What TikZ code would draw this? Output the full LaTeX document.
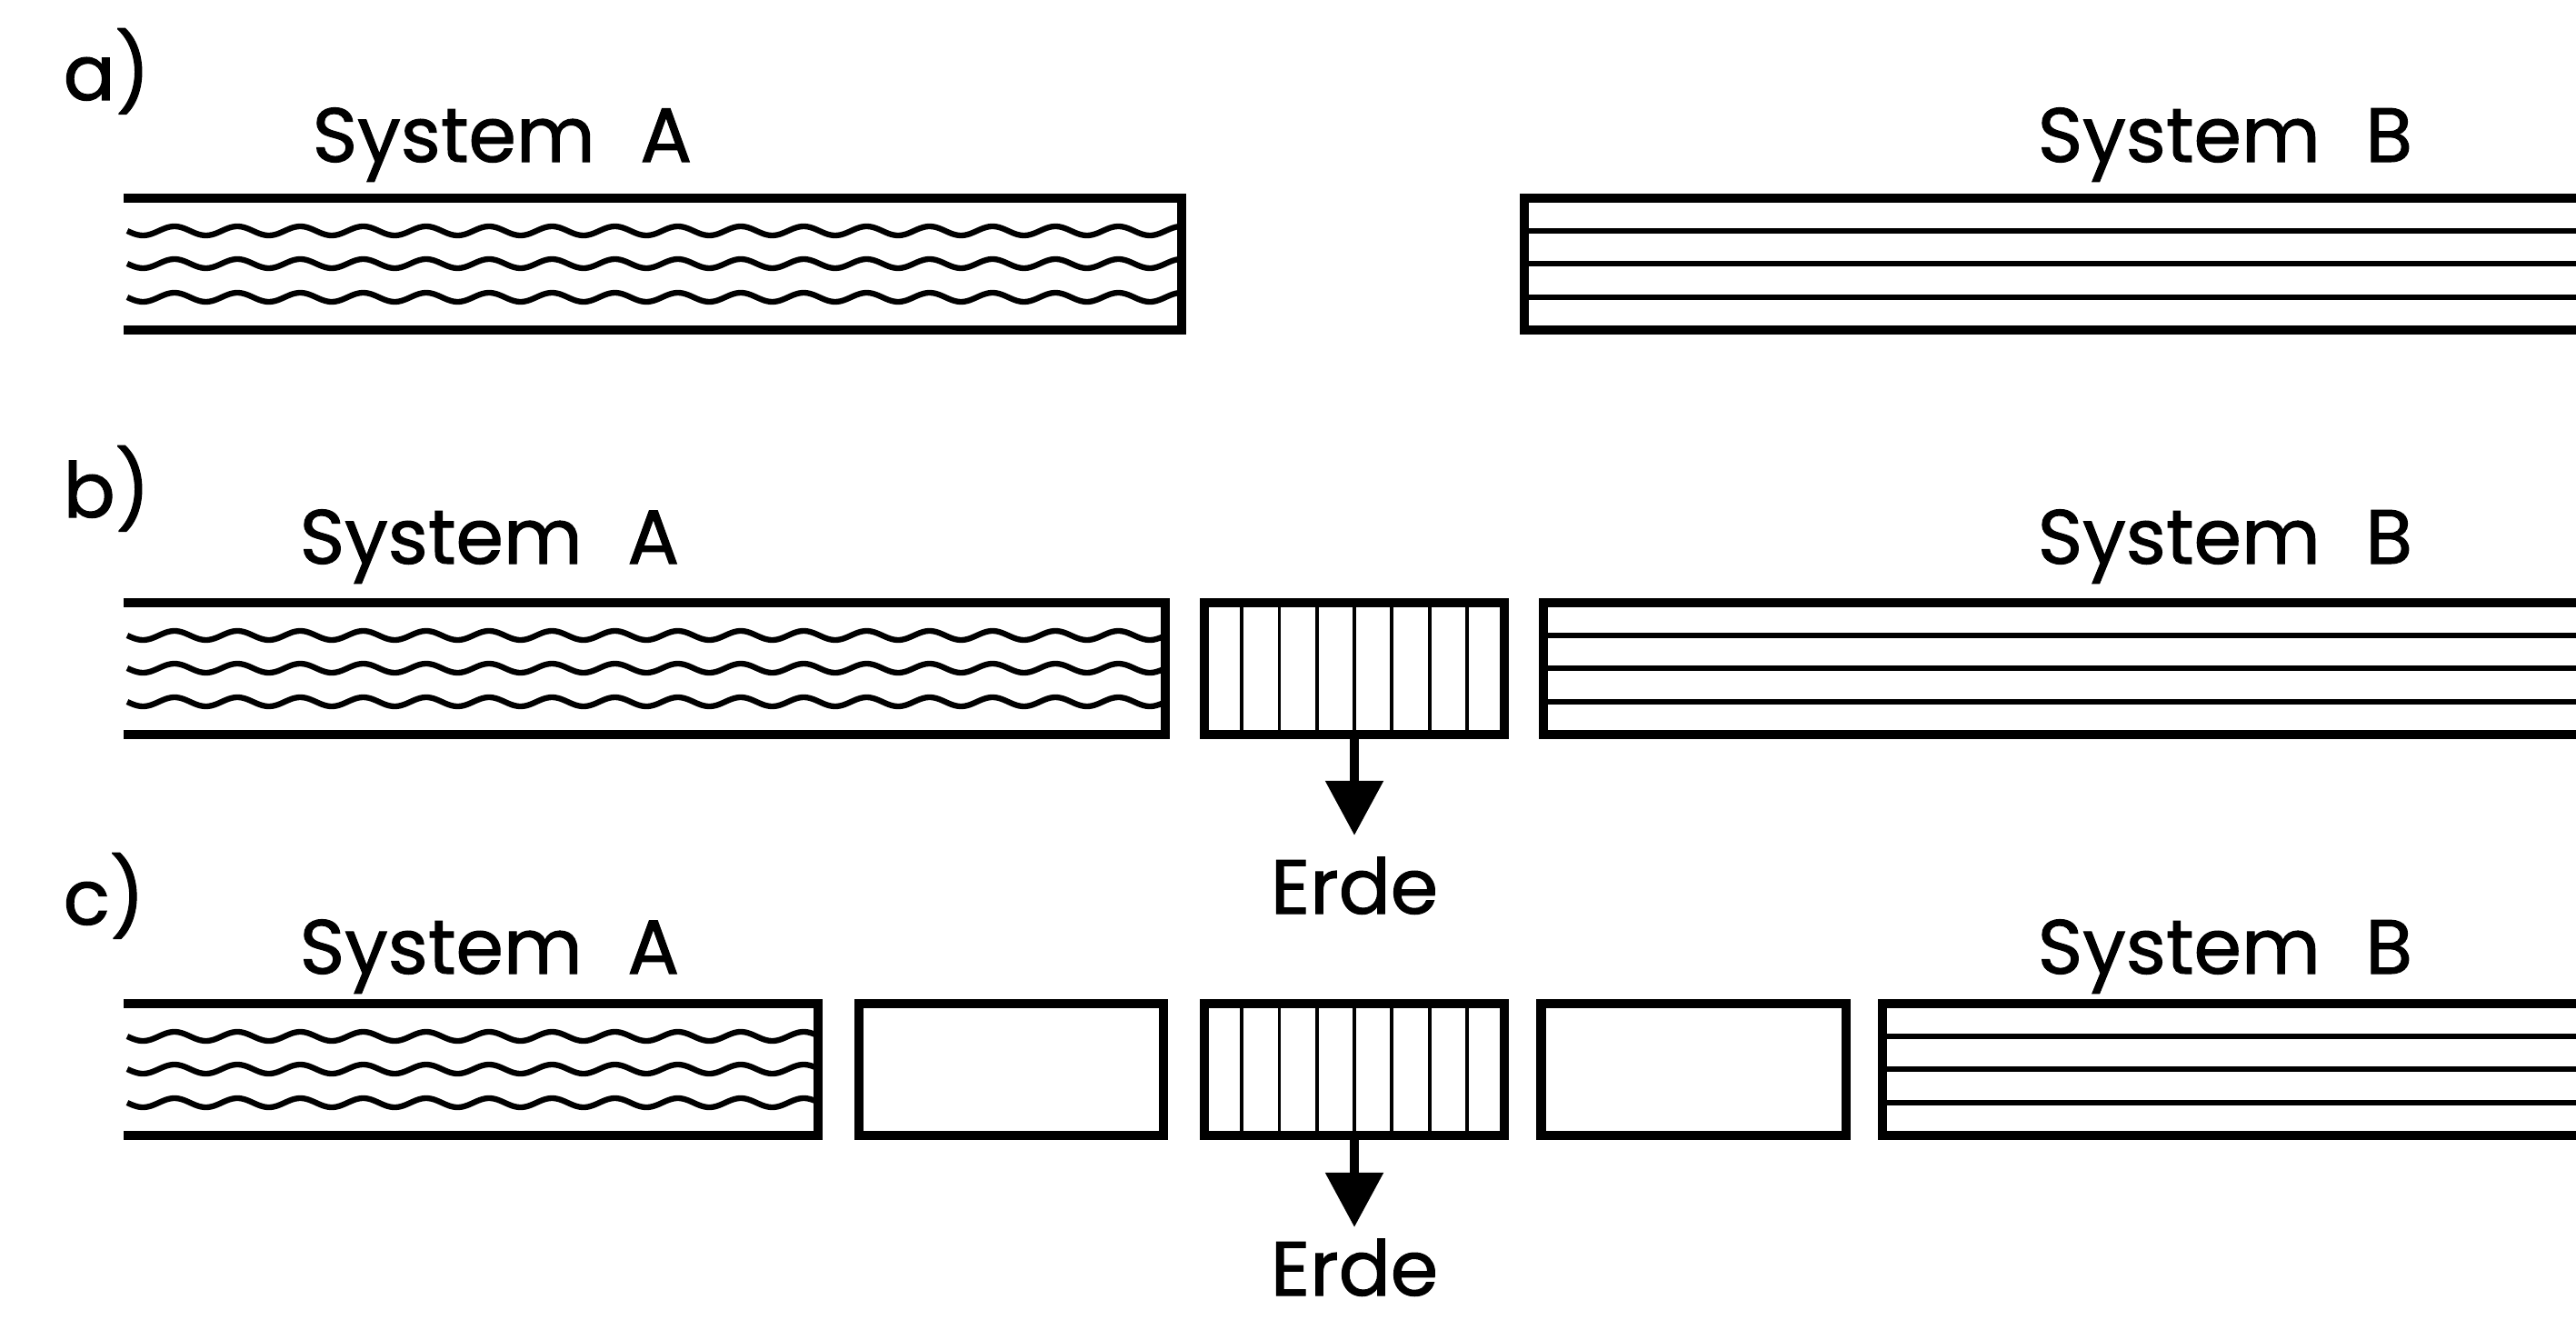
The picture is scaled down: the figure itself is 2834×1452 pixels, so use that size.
\documentclass[tikz,border=0pt]{standalone}
\usepackage{fontspec}
\setmainfont[WordSpace=2.2,FakeBold=1.2]{Poppins}
\usetikzlibrary{arrows.meta,calc}
\newcommand\wavyln[3]{% y, x-start, x-end
  \draw[wave] plot[domain=#2:#3, samples=400, smooth] (\x, {#1 + 5*sin(mod((\x-#2)*5.2,360))});}
\begin{document}
\begin{tikzpicture}[x=0.01cm,y=-0.01cm,
  outline/.style={line width=2.9pt},
  inner/.style={line width=1.5pt},
  wave/.style={line width=1.8pt, line join=round},
  hatch/.style={line width=1.1pt},
  lbl/.style={font=\fontsize{24}{28}\selectfont, inner sep=0pt, anchor=base west},
  erde/.style={font=\fontsize{24}{28}\selectfont, inner sep=0pt, anchor=base},
  gnd/.style={line width=2.6pt, -{Triangle[length=0.6cm,width=0.62cm]}},
  earthbox/.style={draw, line width=2.9pt, minimum width=3.3cm, minimum height=1.45cm, inner sep=0pt, outer sep=0pt},
  emptybox/.style={draw, line width=2.9pt, minimum width=3.35cm, minimum height=1.45cm, inner sep=0pt, outer sep=0pt}
]
\useasboundingbox (0,0) rectangle (2834,1452);
\clip (0,0) rectangle (2834,1452);

% ---------- row a ----------
\node[lbl] (la) at (69,110) {a)};
\node[lbl] (sAa) at (343,178) {System A};
\node[lbl] (sBa) at (2241,178) {System B};
\draw[outline] (136,218) -- (1300,218) -- (1300,363) -- (136,363);
\wavyln{254}{140}{1296}
\wavyln{290}{140}{1296}
\wavyln{327}{140}{1296}
\draw[outline] (2840,218) -- (1677,218) -- (1677,363) -- (2840,363);
\foreach \yy in {254,290,327} \draw[inner] (1677,\yy) -- (2840,\yy);

% ---------- row b ----------
\node[lbl] (lb) at (69,569) {b)};
\node[lbl] (sAb) at (329,620) {System A};
\node[lbl] (sBb) at (2241,620) {System B};
\draw[outline] (136,663) -- (1282,663) -- (1282,808) -- (136,808);
\wavyln{699}{140}{1278}
\wavyln{735}{140}{1278}
\wavyln{772}{140}{1278}
\node[earthbox] (ebB) at (1490,735.5) {};
\foreach \k in {1,...,7} \draw[hatch] ($(ebB.north west)!\k/8!(ebB.north east)$) -- ($(ebB.south west)!\k/8!(ebB.south east)$);
\draw[outline] (2840,663) -- (1698,663) -- (1698,808) -- (2840,808);
\foreach \yy in {699,735,772} \draw[inner] (1698,\yy) -- (2840,\yy);
\node[erde] (erdeB) at (1490,1005) {Erde};
\draw[gnd, shorten >=0.23cm] (ebB.south) -- (erdeB.north);

% ---------- row c ----------
\node[lbl] (lc) at (69,1017) {c)};
\node[lbl] (sAc) at (329,1071) {System A};
\node[lbl] (sBc) at (2241,1071) {System B};
\draw[outline] (136,1104) -- (900,1104) -- (900,1249) -- (136,1249);
\wavyln{1140}{140}{896}
\wavyln{1176}{140}{896}
\wavyln{1213}{140}{896}
\node[emptybox] (e1) at (1112.5,1176.5) {};
\node[earthbox] (ebC) at (1490,1176.5) {};
\foreach \k in {1,...,7} \draw[hatch] ($(ebC.north west)!\k/8!(ebC.north east)$) -- ($(ebC.south west)!\k/8!(ebC.south east)$);
\node[emptybox] (e2) at (1863,1176.5) {};
\draw[outline] (2840,1104) -- (2071,1104) -- (2071,1249) -- (2840,1249);
\foreach \yy in {1140,1176,1213} \draw[inner] (2071,\yy) -- (2840,\yy);
\node[erde] (erdeC) at (1490,1425) {Erde};
\draw[gnd, shorten >=0.12cm] (ebC.south) -- (erdeC.north);
\end{tikzpicture}
\end{document}
